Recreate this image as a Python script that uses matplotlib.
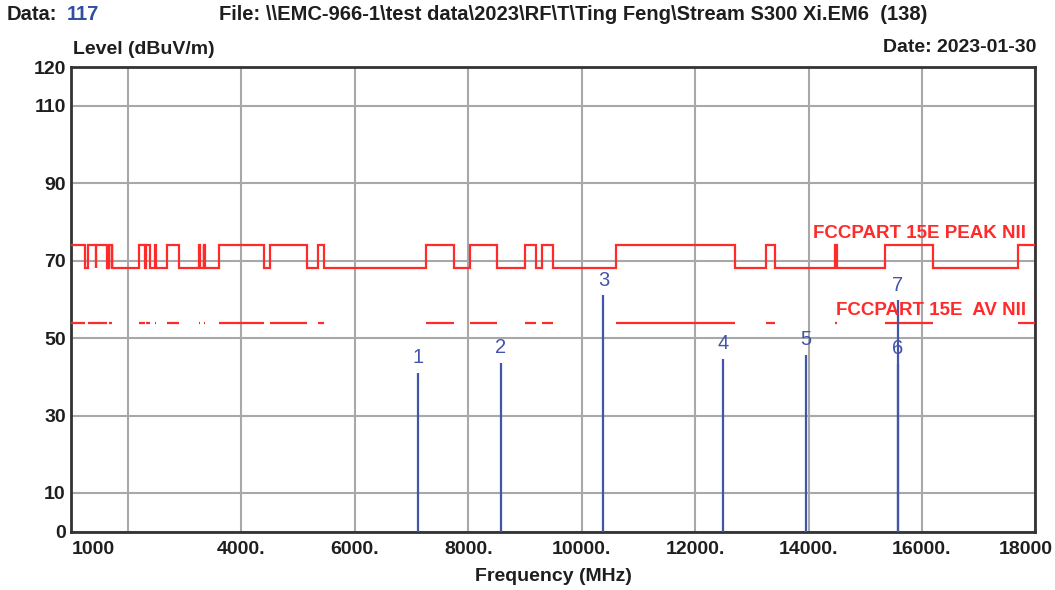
import matplotlib
matplotlib.use('Agg')
import matplotlib.pyplot as plt
import matplotlib.transforms as mtransforms

plt.rcParams['font.family'] = ['Liberation Sans', 'DejaVu Sans']

# restricted bands (MHz) -> limit 74 peak / 54 avg, elsewhere 68.2
band_start = [1000, 1300, 1435, 1645.5, 1660, 1718.8, 2200, 2310, 2483.5, 2690,
              3260, 3332, 3345.8, 3600, 4500, 5350, 7250, 8025, 9000, 9300,
              10600, 13250, 14470, 15350, 17700]
band_end = [1240, 1427, 1626.5, 1646.5, 1710, 1722.2, 2300, 2390, 2500, 2900,
            3267, 3339, 3358, 4400, 5150, 5460, 7750, 8500, 9200, 9500,
            12700, 13400, 14500, 16200, 18000]
peak_restricted = 74.0
peak_other = 68.2
av_limit = 54.0

marker_freq = [7118, 8573, 10384, 12485, 13956, 15572, 15572]
marker_level = [41.0, 43.6, 61.0, 44.6, 45.7, 43.3, 59.8]
marker_names = ['1', '2', '3', '4', '5', '6', '7']

xticks = [1000, 2000, 4000, 6000, 8000, 10000, 12000, 14000, 16000, 18000]
xtick_labels = ['1000', '', '4000.', '6000.', '8000.', '10000.', '12000.', '14000.', '16000.', '18000']
yticks = [0, 10, 30, 50, 70, 90, 110, 120]

red = '#ff2a2a'
blue = '#4355a8'
dark = '#1e1e1e'

# build the stepped peak limit
edges = [1000]
vals = []
for s, e in zip(band_start, band_end):
    if s > edges[-1]:
        vals.append(peak_other)
        edges.append(s)
    vals.append(peak_restricted)
    edges.append(e)
if edges[-1] < 18000:
    vals.append(peak_other)
    edges.append(18000)

fig = plt.figure(figsize=(10.55, 5.9), dpi=100)
ax = fig.add_axes([71.3 / 1055, 1 - 531.7 / 590, (1035.4 - 71.3) / 1055, (531.7 - 67) / 590])

ax.stairs(vals, edges, baseline=None, color=red, lw=1.6, zorder=3)
ax.hlines([av_limit] * len(band_start), band_start, band_end, color=red, lw=1.6, zorder=3)

ax.vlines(marker_freq, 0, marker_level, color=blue, lw=1.6, zorder=4)
for f, lv, n in zip(marker_freq, marker_level, marker_names):
    ax.annotate(n, (f, lv), xytext=(0, 4), textcoords='offset points',
                ha='center', va='bottom', color=blue, fontsize=14.5, zorder=5)

ax.text(0.99, 74.8, 'FCCPART 15E PEAK NII', transform=ax.get_yaxis_transform(),
        ha='right', va='bottom', color=red, fontsize=13.5, fontweight='bold', zorder=6)
ax.text(0.99, 54.8, 'FCCPART 15E  AV NII', transform=ax.get_yaxis_transform(),
        ha='right', va='bottom', color=red, fontsize=13.5, fontweight='bold', zorder=6)

ax.set_xlim(1000, 18000)
ax.set_ylim(0, 120)
ax.set_xticks(xticks)
ax.set_xticklabels(xtick_labels)
ax.set_yticks(yticks)
ax.grid(True, color='#a8a8a8', lw=1.5)
ax.set_axisbelow(True)
ax.tick_params(length=0, labelsize=14, colors=dark, pad=4)
ax.tick_params(axis='x', pad=7)
for lbl in ax.get_xticklabels() + ax.get_yticklabels():
    lbl.set_fontweight('bold')
xl = ax.get_xticklabels()
xl[0].set_ha('left')
xl[-1].set_transform(xl[-1].get_transform() + mtransforms.ScaledTranslation(-0.1, 0, fig.dpi_scale_trans))
for s in ax.spines.values():
    s.set_color('#333333')
    s.set_linewidth(2)

ax.set_xlabel('Frequency (MHz)', fontsize=14, fontweight='bold', color=dark, labelpad=7)

fig.text(7 / 1055, 1 - 14 / 590, 'Data:', fontsize=14.5, fontweight='bold', color=dark, va='center')
fig.text(67 / 1055, 1 - 14 / 590, '117', fontsize=14.5, fontweight='bold', color='#2f4f9f', va='center')
fig.text(927 / 1055, 1 - 14 / 590, 'File: \\\\EMC-966-1\\test data\\2023\\RF\\T\\Ting Feng\\Stream S300 Xi.EM6  (138)',
         fontsize=14.5, fontweight='bold', color=dark, va='center', ha='right')
fig.text(73 / 1055, 1 - 50 / 590, 'Level (dBuV/m)', fontsize=14, fontweight='bold', color=dark, va='center')
fig.text(1036 / 1055, 1 - 48 / 590, 'Date: 2023-01-30', fontsize=14, fontweight='bold', color=dark,
         va='center', ha='right')

fig.savefig('out.png', dpi=100)
